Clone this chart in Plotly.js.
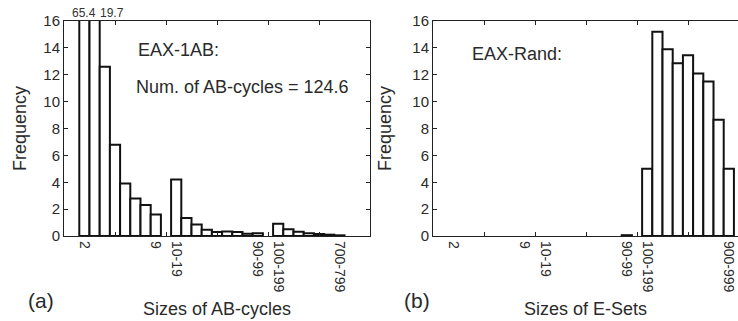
<!DOCTYPE html>
<html>
<head>
<meta charset="utf-8">
<script src="https://cdn.plot.ly/plotly-3.0.1.min.js"></script>
<style>html,body{margin:0;padding:0;background:#fff;}#chart{width:738px;height:321px;}</style>
</head>
<body>
<div id="chart"></div>
<script>
// Size bins (categories) shared by both panels
const bins = ['2','3','4','5','6','7','8','9',
  '10-19','20-29','30-39','40-49','50-59','60-69','70-79','80-89','90-99',
  '100-199','200-299','300-399','400-499','500-599','600-699','700-799','800-899','900-999'];

// (a) EAX-1AB: frequency of AB-cycle sizes
const abFreq = [65.4, 19.7, 12.6, 6.8, 3.9, 2.8, 2.3, 1.6,
  4.2, 1.34, 0.85, 0.47, 0.3, 0.33, 0.3, 0.16, 0.2,
  0.92, 0.5, 0.32, 0.2, 0.15, 0.1, 0.05, 0, 0];

// (b) EAX-Rand: frequency of E-set sizes
const esFreq = [0, 0, 0, 0, 0, 0, 0, 0,
  0, 0, 0, 0, 0, 0, 0, 0, 0.06,
  5.0, 15.2, 13.9, 12.85, 13.45, 12.1, 11.5, 8.65, 5.0];

const labelsA = ['2','9','10-19','90-99','100-199','700-799'];
const labelsB = ['2','9','10-19','90-99','100-199','900-999'];
const yTicks = [0,2,4,6,8,10,12,14,16];
const overflowA = ['65.4','19.7'];

// bin slot on the axis: groups of units / tens / hundreds separated by an empty slot
function slot(i){ return i < 8 ? i + 2 : (i < 17 ? i + 3 : i + 4); }
const pos = bins.map((b,i)=>slot(i));
const posOf = l => pos[bins.indexOf(l)];

function barTrace(vals, xa, ya){
  const x = [], y = [];
  vals.forEach((v,i)=>{ if (v > 0){ x.push(pos[i]); y.push(v); } });
  return {type:'bar', x:x, y:y, width:1, xaxis:xa, yaxis:ya,
    marker:{color:'#ffffff', line:{color:'#111', width:2}},
    hoverinfo:'skip', showlegend:false, cliponaxis:true};
}
function helper(labels, xa, ya){
  return {type:'scatter', mode:'markers', x:labels.map(posOf), y:labels.map(()=>0),
    xaxis:xa, yaxis:ya, marker:{opacity:0}, hoverinfo:'skip', showlegend:false};
}

const fam = '"Liberation Sans", Arial, sans-serif';
const txt = '#2a2a2a';
const font = {family:fam, color:txt};
const lineC = '#222';
const frameX = (dom, rng, anchor) => ({domain:dom, range:rng, anchor:anchor,
  tickvals:[0,5,10,15,20,25,30], ticks:'inside', ticklen:4, tickcolor:lineC,
  showticklabels:false, showline:true, linecolor:lineC, linewidth:1, mirror:'ticks',
  showgrid:false, zeroline:false, fixedrange:true});
const labelX = (over, anchor, rng, labels, title) => ({overlaying:over, anchor:anchor, range:rng,
  tickmode:'array', tickvals:labels.map(posOf), ticktext:labels, tickangle:90,
  ticks:'', showline:false, showgrid:false, zeroline:false,
  ticklabelstandoff:4, ticklabeloverflow:'allow',
  tickfont:{size:14, family:fam, color:txt},
  title:{text:title, font:{size:18, family:fam, color:txt}, standoff:10}});
const frameY = (anchor, mirror, standoff) => ({domain:[0,1], range:[0,16], anchor:anchor,
  tickvals:yTicks, ticks:'inside', ticklen:4, tickcolor:lineC,
  tickfont:{size:15, family:fam, color:txt},
  showline:true, linecolor:lineC, linewidth:1, mirror:mirror,
  showgrid:false, zeroline:false, fixedrange:true,
  title:{text:'Frequency', font:{size:18, family:fam, color:txt}, standoff:standoff}});

const rngA = [0,30], rngB = [0,29.9];
const data = [
  barTrace(abFreq,'x','y'),
  barTrace(esFreq,'x2','y2'),
  helper(labelsA,'x3','y'),
  helper(labelsB,'x4','y2')
];

const layout = {
  width:738, height:321,
  margin:{l:64, r:0, t:21, b:85},
  paper_bgcolor:'#fff', plot_bgcolor:'rgba(0,0,0,0)',
  font:font, showlegend:false, bargap:0,
  xaxis: frameX([0,0.454], rngA, 'y'),
  xaxis2: frameX([0.5475,1], rngB, 'y2'),
  xaxis3: labelX('x','y',rngA,labelsA,'Sizes of AB-cycles'),
  xaxis4: labelX('x2','y2',rngB,labelsB,'Sizes of E-Sets'),
  yaxis: frameY('x','ticks',12),
  yaxis2: frameY('x2',false,16),
  annotations:[
    {xref:'x', yref:'y', x:2, y:16, yanchor:'bottom', yshift:-1, text:overflowA[0], showarrow:false, font:{size:12, color:'#333'}},
    {xref:'x', yref:'y', x:3, y:16, yanchor:'bottom', yshift:-1, xshift:17, text:overflowA[1], showarrow:false, font:{size:12, color:'#333'}},
    {xref:'x', yref:'y', x:7.1, y:13.85, xanchor:'left', yanchor:'middle', text:'EAX-1AB:', showarrow:false, font:{size:18}},
    {xref:'x', yref:'y', x:6.9, y:11.1, xanchor:'left', yanchor:'middle', text:'Num. of AB-cycles = 124.6', showarrow:false, font:{size:18}},
    {xref:'x2', yref:'y2', x:3.6, y:13.55, xanchor:'left', yanchor:'middle', text:'EAX-Rand:', showarrow:false, font:{size:18}},
    {xref:'paper', yref:'paper', x:-0.034, y:-0.298, xanchor:'center', yanchor:'middle', text:'(a)', showarrow:false, font:{size:21}},
    {xref:'paper', yref:'paper', x:0.524, y:-0.302, xanchor:'center', yanchor:'middle', text:'(b)', showarrow:false, font:{size:21}}
  ]
};

Plotly.newPlot('chart', data, layout, {staticPlot:true, displayModeBar:false});
</script>
</body>
</html>
